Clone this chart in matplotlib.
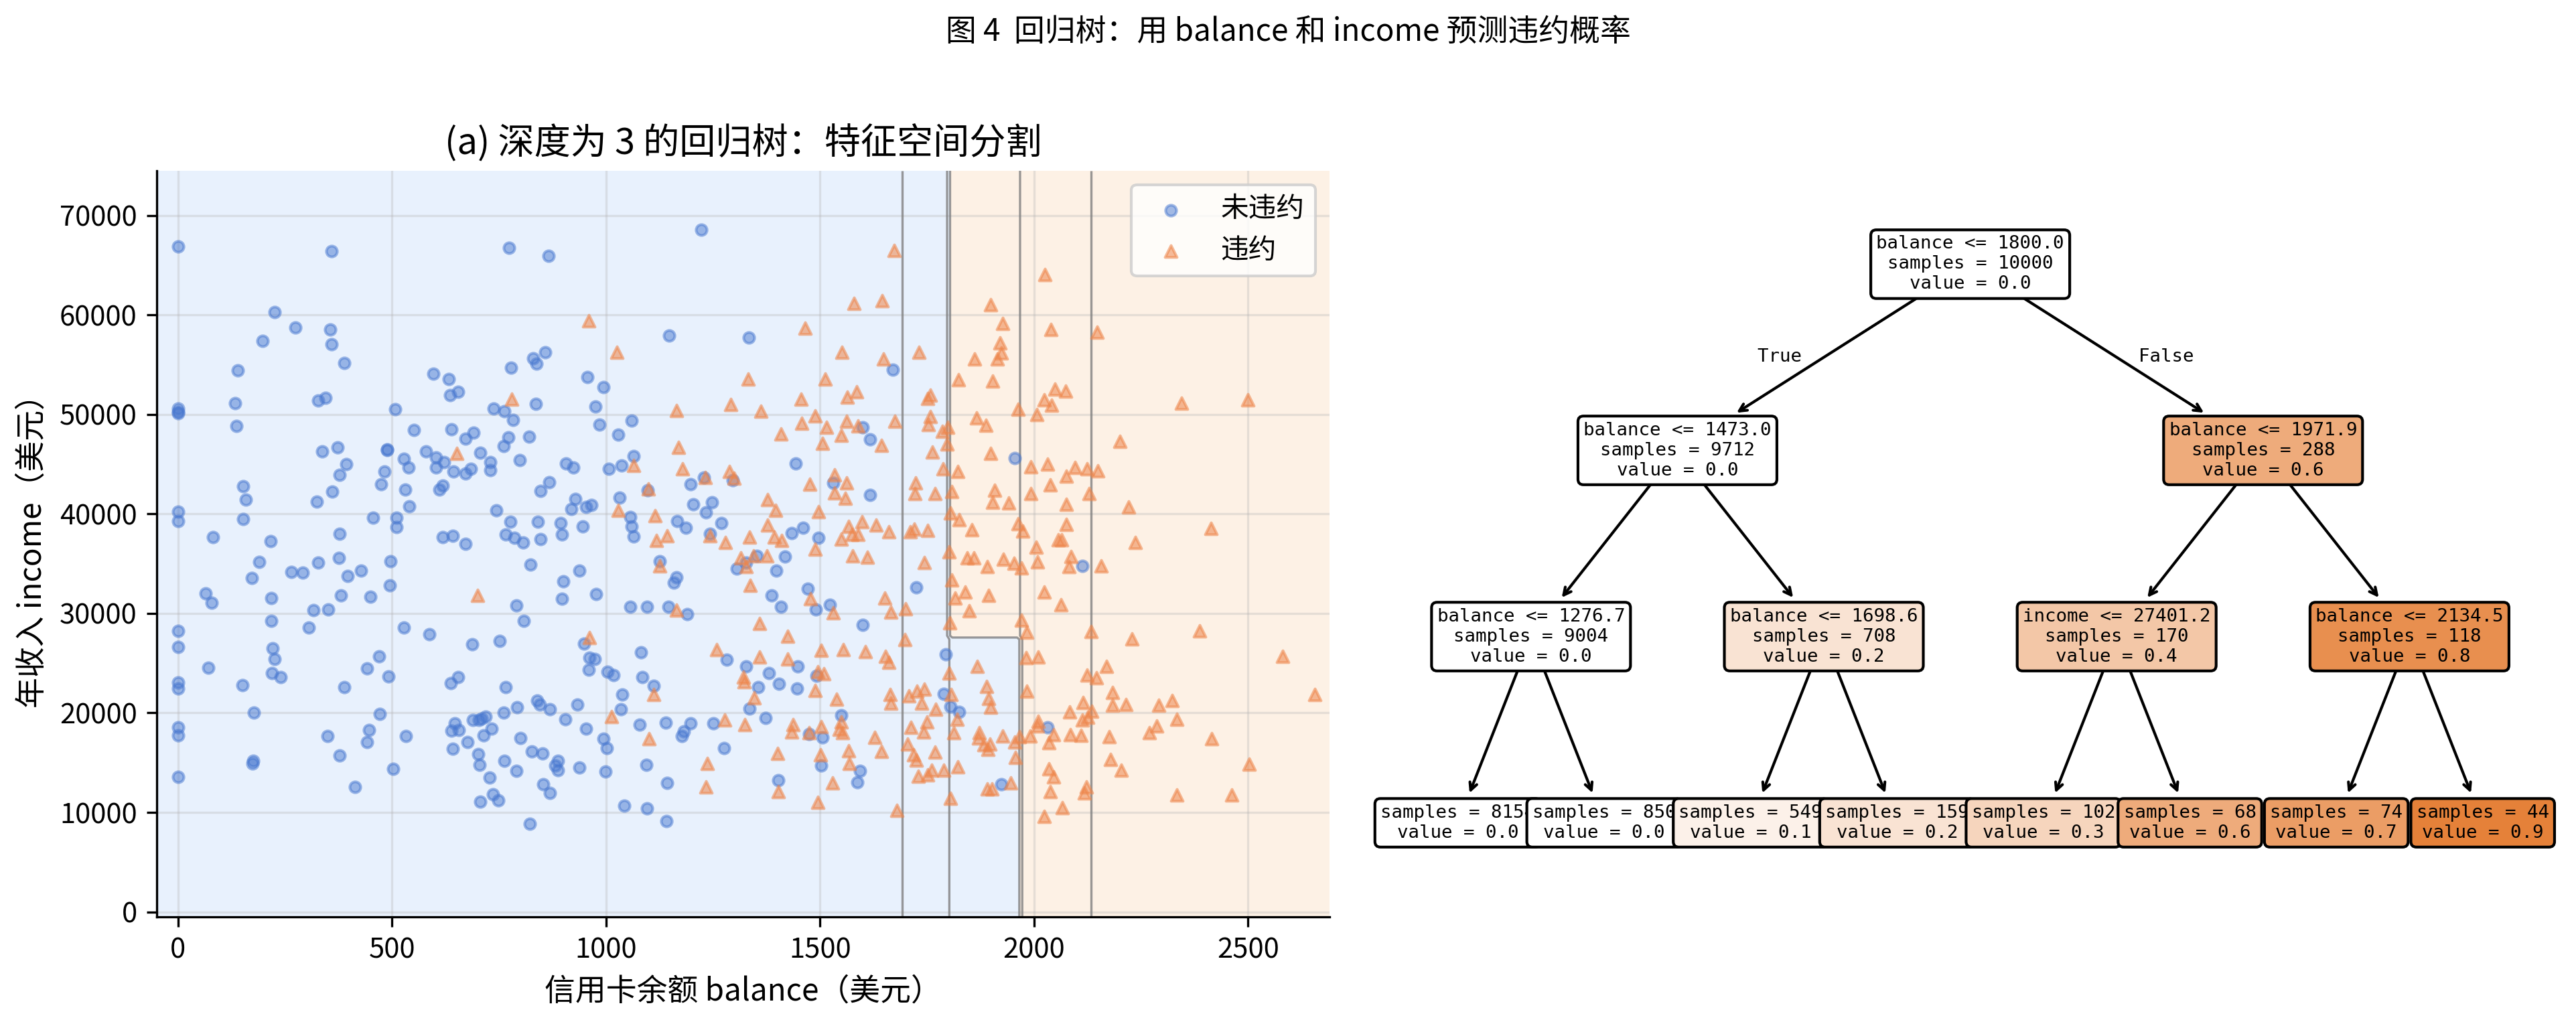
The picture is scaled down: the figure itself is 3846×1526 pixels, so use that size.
import numpy as np
import matplotlib.pyplot as plt

plt.rcParams['font.family'] = ['Noto Sans CJK SC', 'DejaVu Sans']
plt.rcParams['axes.unicode_minus'] = False

# ---- 未违约 (no default) : balance / income ----
no_balance = [
    0, 358, 774, 866, 226, 274, 355, 197, 358, 388, 139, 597, 632, 858, 829, 838, 778, 654, 636, 327,
    344, 133, 0, 0, 0, 507, 738, 763, 836, 782, 137, 551, 638, 691, 672, 771, 761, 820, 336, 372,
    489, 489, 580, 706, 527, 602, 621, 538, 603, 798, 729, 730, 644, 671, 684, 393, 377, 483, 474, 867,
    847, 152, 158, 531, 619, 610, 361, 325, 540, 744, 0, 0, 152, 456, 510, 510, 776, 840, 81, 217,
    377, 618, 642, 765, 786, 806, 847, 672,
    189, 172, 264, 292, 327, 376, 396, 427, 497, 495, 824, 65, 78, 218, 381, 449, 316, 351, 790, 808,
    0, 0, 218, 305, 527, 587, 688, 752, 221, 225, 470, 70, 441, 492, 219, 239, 0, 0, 150, 389,
    637, 654, 765, 839, 845, 177, 472, 792, 761, 0, 0, 349, 446, 442, 533, 647, 639, 656, 689, 703,
    709, 718, 732, 714, 677, 642, 800, 378, 701, 704, 763, 827, 851, 791, 176, 174, 503, 0, 728, 413,
    736, 749, 706, 853, 822,
    1222, 1148, 1333, 1670, 956, 994, 975, 985, 1059, 1028, 1064, 907, 923, 1006, 1036, 928, 919, 953, 965, 1031,
    1097, 1197, 1228, 1296, 1204, 1247, 1234, 1443, 1599, 1617, 1530, 1617, 894, 897, 945, 1056, 1060, 1064, 1166, 1187,
    1243, 1269, 1434, 1461, 1497,
    1125, 937, 900, 897, 977, 1056, 1095, 1146, 1164, 1159, 1190, 1305, 1327, 1352, 1397, 1418, 1387, 1408, 1471, 1490,
    1523, 1725, 1600, 948, 961, 974, 959, 1003, 1018, 1082, 1085, 1111, 1037, 1034, 933, 869, 905, 953, 994, 1002,
    1079, 1139, 1198, 1181, 1177, 1251, 1275, 1282, 1327, 1381, 1356, 1404, 1448, 1446, 1335, 1372, 1492, 1550, 1474, 1505,
    1503, 1594, 1587, 1402, 869, 888, 882, 888, 938, 999, 1094, 1142, 1042, 1095, 1141,
    1954, 2113, 1794, 1789, 1805, 1825, 1923, 2032,
]
no_income = [
    66880, 66430, 66760, 65980, 60310, 58750, 58510, 57430, 57030, 55160, 54410, 54080, 53530, 56250, 55680, 55080, 54680, 52250, 51970, 51390,
    51680, 51130, 50570, 50290, 50100, 50530, 50600, 50340, 51050, 49450, 48850, 48470, 48510, 48180, 47580, 47670, 46830, 47770, 46310, 46690,
    46500, 46450, 46280, 46160, 45560, 45660, 45180, 44680, 44680, 45420, 45230, 44410, 44240, 44100, 44530, 45010, 43930, 44290, 43020, 43170,
    42330, 42810, 41460, 42420, 42850, 42450, 42250, 41270, 40770, 40340, 40220, 39280, 39500, 39640, 39620, 38660, 39210, 39210, 37650, 37270,
    37990, 37700, 37820, 37940, 37580, 37100, 37460, 36980,
    35150, 33590, 34190, 34070, 35080, 35610, 33800, 34280, 35220, 32840, 34930, 32050, 31080, 31560, 31830, 31710, 30360, 30430, 30820, 29280,
    28270, 26630, 29280, 28600, 28560, 27880, 26920, 27210, 26510, 25430, 25720, 24560, 24490, 23690, 24030, 23570, 23070, 22470, 22800, 22610,
    23020, 23570, 22610, 21220, 20810, 20060, 19920, 20590, 20010, 18520, 17730, 17700, 18300, 17080, 17700, 18980, 18210, 18300, 19290, 19290,
    19410, 19630, 18400, 17750, 17050, 16430, 17490, 15730, 15880, 14790, 15200, 16140, 15930, 14190, 15200, 14910, 14400, 13590, 13470, 12550,
    11830, 11230, 11080, 12840, 8870,
    68590, 57910, 57720, 54480, 53770, 52730, 50820, 49000, 49400, 47990, 45800, 45060, 44700, 44560, 44870, 41540, 40530, 40700, 40870, 41660,
    42380, 43020, 43650, 43410, 40990, 41180, 40170, 45090, 48730, 47480, 43140, 41900, 39070, 37940, 38780, 39690, 38730, 37770, 39310, 38610,
    38010, 39070, 38060, 38610, 37630,
    35220, 34280, 33200, 31490, 31970, 30650, 30700, 30700, 33610, 33080, 29950, 34500, 35100, 35820, 34280, 35700, 31800, 30700, 32520, 30380,
    30840, 32640, 28870, 27000, 25530, 25410, 24370, 24110, 23820, 26110, 23630, 22740, 21870, 20380, 20820, 20340, 19330, 18390, 17430, 16490,
    18800, 18990, 18940, 18150, 17670, 18940, 16490, 25360, 24710, 23990, 22620, 22950, 24710, 22480, 20450, 19470, 23750, 19740, 17910, 17550,
    14690, 14180, 13050, 13240, 11920, 15170, 14730, 14250, 14540, 14080, 14810, 12930, 10700, 10430, 9130,
    45590, 34810, 25870, 21900, 20670, 20070, 12860, 18530,
]

# ---- 违约 (default) : balance / income ----
yes_balance = [
    780, 652, 699,
    1673, 1579, 1645, 959, 1465, 1025, 1551, 1648, 1731, 1332, 1512, 1456, 1564, 1585, 1751, 1757, 1164, 1292,
    1362, 1489, 1457, 1515, 1562, 1674, 1757, 1753, 1408, 1549, 1505, 1643, 1763, 1169, 1065, 1179, 1232, 1288,
    1299, 1098, 1533, 1476, 1562, 1533, 1559, 1723, 1721, 1769, 1377, 1396, 1028, 1114, 1497, 1378, 1566, 1598,
    1631, 1660, 1711, 1720, 1751, 1142, 1118, 1243, 1335, 1393, 1410, 1574, 1588, 1550, 1279, 1588,
    1125, 1165, 961, 1258, 1337, 1359, 1424, 1358, 1424, 1477, 1531, 1576, 1610, 1651, 1665, 1699, 1698, 1743,
    1503, 1554, 1606, 1652, 1661, 1321, 1323, 1494, 1509, 1488, 1346, 1112, 1012, 1100, 1277, 1324, 1539, 1663,
    1665, 1436, 1433, 1474, 1503, 1550, 1544, 1553, 1628, 1566, 1643, 1501, 1401, 1568, 1237, 1233, 1402, 1529,
    1494, 1680, 1708, 1727, 1744, 1737, 1770, 1712, 1749, 1742, 1705, 1718, 1724, 1768, 1730, 1751, 1761,
    1314, 1328, 1345, 1375, 1489,
    2025, 1898, 1926, 2039, 2147, 1920, 1924, 1914, 1861, 1823, 1903, 2048, 2073, 2023, 2041, 1963, 2006, 2344,
    2500, 1865, 1888, 1799, 1786, 1797, 2201, 1899, 1787, 1822, 1993, 2032, 2075, 2095, 2124, 2149, 2037, 1807,
    1907, 1903, 1940, 1992, 2128, 2075, 2221, 1804, 1825, 1854, 1962, 1974, 2075, 2057, 2064, 2413, 2236, 2005,
    1802, 1844, 1859, 1928, 1890, 1953, 1971, 2008, 2086, 2081, 2156,
    1808, 1815, 1839, 1894, 1848, 2023, 2063, 1803, 1971, 1983, 2133, 2228, 2387, 2580, 1981, 2009, 1867, 1801,
    2169, 2123, 2145, 1889, 1894, 1899, 1983, 1806, 2114, 2083, 2112, 2135, 2126, 2183, 2183, 2215, 2291, 2322,
    2333, 2287, 2269, 2655, 1820, 1813, 1872, 1870, 1882, 1892, 1897, 1927, 1955, 1965, 1990, 1957, 2008, 2009,
    2046, 2034, 2085, 2109, 2176, 2415, 2035, 2046, 2178, 2204, 2502, 2037, 2122, 2117, 2333, 2462, 2024, 2066,
    1946, 1890, 1901, 1805, 1822, 1789,
]
yes_income = [
    51560, 46090, 31800,
    66470, 61200, 61440, 59450, 58680, 56240, 56240, 55560, 56240, 53530, 53530, 51540, 51730, 52250, 51610, 51970, 50410, 51010,
    50340, 49860, 49090, 48730, 49330, 49330, 49810, 48970, 48060, 47890, 47100, 46880, 46210, 46690, 44890, 44530, 43690, 44290,
    43570, 42500, 43930, 42980, 43100, 42140, 41610, 43100, 42020, 42020, 41420, 40340, 40340, 39810, 40220, 38900, 38780, 39190,
    38900, 38230, 38230, 38470, 38350, 37820, 37340, 37820, 37700, 37700, 37340, 37940, 37940, 37460, 37100, 48850,
    34810, 30360, 27600, 26390, 32840, 28990, 27720, 25600, 25430, 31490, 30070, 35770, 35650, 31560, 30120, 30480, 27360, 35100,
    26270, 26390, 26150, 25670, 25070, 23630, 23150, 24110, 23940, 22260, 21510, 21830, 19610, 17430, 19300, 18820, 21350, 21830,
    20980, 18820, 18050, 17980, 18650, 19060, 18340, 17980, 17550, 16180, 16130, 15820, 15940, 14900, 14900, 12570, 12090, 12980,
    11010, 10170, 21710, 22190, 22360, 20980, 20380, 18580, 19060, 18100, 16900, 15820, 15220, 16060, 13650, 13770, 14250,
    35570, 34690, 35820, 35820, 36490,
    64090, 61010, 59160, 58570, 58260, 57230, 56200, 55560, 55610, 53480, 53350, 52580, 52350, 51500, 50910, 50550, 50010, 51120,
    51500, 49630, 48930, 48680, 48340, 47000, 47320, 46110, 44570, 44260, 44770, 45030, 43800, 44700, 44570, 44310, 42950, 42250,
    42380, 41150, 41100, 42080, 42080, 40970, 40710, 40070, 39430, 38400, 39040, 38270, 38970, 37370, 37370, 38530, 37120, 36650,
    36220, 35580, 35580, 35450, 34680, 35060, 34550, 35190, 35700, 34680, 34810,
    33370, 31560, 32160, 31800, 30240, 32160, 30840, 29040, 29330, 28130, 28200, 27430, 28270, 25720, 25550, 25620, 24710, 23990,
    24710, 23800, 23510, 22670, 21470, 20550, 22190, 21830, 21030, 20070, 19300, 20190, 19540, 22020, 20740, 20860, 20740, 21270,
    19370, 18700, 17980, 21870, 19350, 17980, 17980, 17500, 16780, 16300, 16900, 17670, 17070, 17620, 17670, 15500, 18700, 19180,
    17810, 17020, 17810, 17740, 17620, 17380, 14370, 13580, 15330, 14250, 14850, 12090, 12570, 11970, 11780, 11780, 9570, 10450,
    12930, 12330, 12330, 11420, 14570, 14250,
]

# ---- 回归树 (depth 3), internal nodes in heap order: root, L, R, LL, LR, RL, RR ----
node_feature = ['balance', 'balance', 'balance', 'balance', 'balance', 'income', 'balance']
node_threshold = [1800.0, 1473.0, 1971.9, 1276.7, 1698.6, 27401.2, 2134.5]
node_samples = [10000, 9712, 288, 9004, 708, 170, 118]
node_value = [0.0, 0.0, 0.6, 0.0, 0.2, 0.4, 0.8]
leaf_samples = [8154, 850, 549, 159, 102, 68, 74, 44]
leaf_value = [0.0, 0.0, 0.1, 0.2, 0.3, 0.6, 0.7, 0.9]


def predict(bal, inc):
    t = node_threshold
    v = leaf_value
    left = np.where(bal <= t[1],
                    np.where(bal <= t[3], v[0], v[1]),
                    np.where(bal <= t[4], v[2], v[3]))
    right = np.where(bal <= t[2],
                     np.where(inc <= t[5], v[4], v[5]),
                     np.where(bal <= t[6], v[6], v[7]))
    return np.where(bal <= t[0], left, right)


fig = plt.figure(figsize=(12.82, 5.0867), dpi=300)
fig.suptitle('图 4  回归树：用 balance 和 income 预测违约概率', fontsize=11, y=0.985)

# ---------------- (a) 特征空间分割 ----------------
ax = fig.add_axes([0.0608, 0.1029, 0.4553, 0.7300])
xlim = (-50, 2690)
ylim = (-500, 74500)
xx, yy = np.meshgrid(np.linspace(*xlim, 200), np.linspace(*ylim, 200))
Z = predict(xx, yy)
ax.contourf(xx, yy, Z, levels=[-0.05, 0.5, 1.0], colors=['#e8f1fd', '#fdf1e5'], zorder=0)
ax.contour(xx, yy, Z, levels=[0.15, 0.25, 0.45, 0.65, 0.8], colors='gray',
           linewidths=0.8, alpha=0.8, zorder=1.6)

ax.scatter(no_balance, no_income, s=15, c='#4878d0', marker='o', alpha=0.5, label='未违约', zorder=3)
ax.scatter(yes_balance, yes_income, s=18, c='#ee854a', marker='^', alpha=0.55, label='违约', zorder=3)

ax.set_xlim(xlim)
ax.set_ylim(ylim)
ax.grid(alpha=0.3)
ax.spines['top'].set_visible(False)
ax.spines['right'].set_visible(False)
ax.tick_params(labelsize=10)
ax.set_xlabel('信用卡余额 balance（美元）', fontsize=11)
ax.set_ylabel('年收入 income（美元）', fontsize=11)
ax.set_title('(a) 深度为 3 的回归树：特征空间分割', fontsize=13)
ax.legend(loc='upper right', fontsize=10)

# ---------------- 树结构图 ----------------
tx = fig.add_axes([0.5375, 0.1038, 0.4547, 0.7288])
tx.set_xlim(-0.5, 7.5)
tx.set_ylim(3.5, -0.5)
tx.set_axis_off()

base_rgb = np.array([229, 129, 57])
vmin = min(node_value + leaf_value)
vmax = max(node_value + leaf_value)


def node_color(v):
    a = (v - vmin) / (vmax - vmin)
    rgb = np.round(a * base_rgb + (1 - a) * 255) / 255
    return tuple(rgb)


def node_pos(k, depth_total=3):
    d = int(np.log2(k + 1))
    j = k - (2 ** d - 1)
    span = 2 ** (depth_total - d)
    return j * span + (span - 1) / 2, d


tfont = dict(family=['DejaVu Sans Mono'], fontsize=6.6)
nodes = []
for k in range(7):
    txt = '%s <= %.1f\nsamples = %d\nvalue = %.1f' % (
        node_feature[k], node_threshold[k], node_samples[k], node_value[k])
    nodes.append((k, txt, node_value[k]))
for i in range(8):
    txt = 'samples = %d\nvalue = %.1f' % (leaf_samples[i], leaf_value[i])
    nodes.append((7 + i, txt, leaf_value[i]))

for k, txt, v in nodes:
    x, d = node_pos(k)
    box = dict(boxstyle='round', fc=node_color(v), ec='k', lw=1.0)
    if k == 0:
        tx.annotate(txt, (x, d), ha='center', va='center', bbox=box,
                    zorder=100 - 10 * d, **tfont)
    else:
        px, pd = node_pos((k - 1) // 2)
        tx.annotate(txt, xy=(px, pd), xytext=(x, d), ha='center', va='center',
                    bbox=box, arrowprops=dict(arrowstyle='<-', color='k', lw=1.0),
                    zorder=100 - 10 * d, **tfont)
        if pd == 0:
            mx, my = (px + x) / 2, (pd + d) / 2
            if k == 1:
                tx.text(mx, my, 'True  ', ha='right', va='center', **tfont)
            else:
                tx.text(mx, my, '  False', ha='left', va='center', **tfont)

fig.savefig('out.png', dpi=300)
